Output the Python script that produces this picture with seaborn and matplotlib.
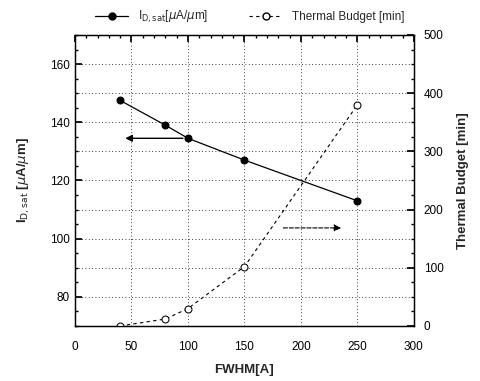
import matplotlib
matplotlib.use("Agg")
import matplotlib.pyplot as plt
import seaborn as sns
import pandas as pd
from matplotlib.ticker import MultipleLocator
from matplotlib.lines import Line2D

fwhm = [40, 80, 100, 150, 250]
id_sat = [147.5, 139.0, 134.5, 127.0, 113.0]
thermal_budget = [0, 12, 30, 102, 380]

sns.set_theme(style="white")
plt.rcParams['font.family'] = ['Liberation Sans', 'DejaVu Sans']

df = pd.DataFrame({"FWHM": fwhm, "Id": id_sat, "TB": thermal_budget})

fig = plt.figure(figsize=(4.8, 3.81), dpi=100)
ax = fig.add_axes([0.15625, 0.1444, 0.706, 0.7638])
ax2 = ax.twinx()

sns.lineplot(data=df, x="FWHM", y="Id", ax=ax, color="black", lw=0.9,
             marker="o", markersize=5, markeredgecolor="black", legend=False)
sns.lineplot(data=df, x="FWHM", y="TB", ax=ax2, color="black", lw=0.8,
             linestyle=(0, (3, 3)), marker="o", markersize=5,
             markerfacecolor="white", markeredgecolor="black", legend=False)

ax.set_xlim(0, 300)
ax.set_ylim(70, 170)
ax2.set_ylim(0, 500)

ax.xaxis.set_major_locator(MultipleLocator(50))
ax.xaxis.set_minor_locator(MultipleLocator(10))
ax.yaxis.set_major_locator(MultipleLocator(20))
ax.yaxis.set_minor_locator(MultipleLocator(5))
ax2.yaxis.set_major_locator(MultipleLocator(100))
ax2.yaxis.set_minor_locator(MultipleLocator(25))

for a in (ax, ax2):
    for s in a.spines.values():
        s.set_color("black")
        s.set_linewidth(0.9)

ax.tick_params(axis="both", which="both", direction="in", top=True,
               labelsize=8.5, colors="black")
ax.tick_params(which="major", length=5)
ax.tick_params(which="minor", length=2.5)
ax.tick_params(axis="x", which="major", pad=11)
ax.tick_params(axis="y", which="major", pad=4)
ax2.tick_params(axis="y", which="both", direction="in", labelsize=8.5, colors="black")
ax2.tick_params(which="major", length=5, pad=7)
ax2.tick_params(which="minor", length=2.5)

# grid
for xv in range(50, 300, 50):
    ax.axvline(xv, color="black", lw=0.6, ls=(0, (1, 3)), zorder=0)
for yv in range(80, 170, 10):
    ax.axhline(yv, color="black", lw=0.6, ls=(0, (1, 3)), zorder=0)

ax.set_xlabel("FWHM[A]", fontsize=9.5, fontweight="bold", labelpad=8)
ax.set_ylabel(r"I$_{\mathrm{D,sat}}$ [$\mu$A/$\mu$m]", fontsize=9.5, fontweight="bold", labelpad=13)
ax2.set_ylabel("Thermal Budget [min]", fontsize=9.5, fontweight="bold", labelpad=10)

# arrows
ax.annotate("", xy=(42, 134.5), xytext=(98, 134.5),
            arrowprops=dict(arrowstyle="-|>", color="black", lw=1.0, mutation_scale=10))
ax.annotate("", xy=(238, 103.7), xytext=(182, 103.7),
            arrowprops=dict(arrowstyle="-|>", color="black", lw=0.8, ls="--", mutation_scale=10))

# legend
h1 = Line2D([], [], color="black", lw=0.9, marker="o", markersize=5)
h2 = Line2D([], [], color="black", lw=0.8, ls=(0, (3, 3)), marker="o", markersize=5,
            markerfacecolor="white")
fig.legend([h1, h2], [r"I$_{\mathrm{D,sat}}$[$\mu$A/$\mu$m]", "Thermal Budget [min]"],
           loc="upper center", bbox_to_anchor=(0.52, 1.005), ncol=2, frameon=False,
           fontsize=8.5, handlelength=2.8, columnspacing=3.5)

fig.savefig("out.png", dpi=100)
